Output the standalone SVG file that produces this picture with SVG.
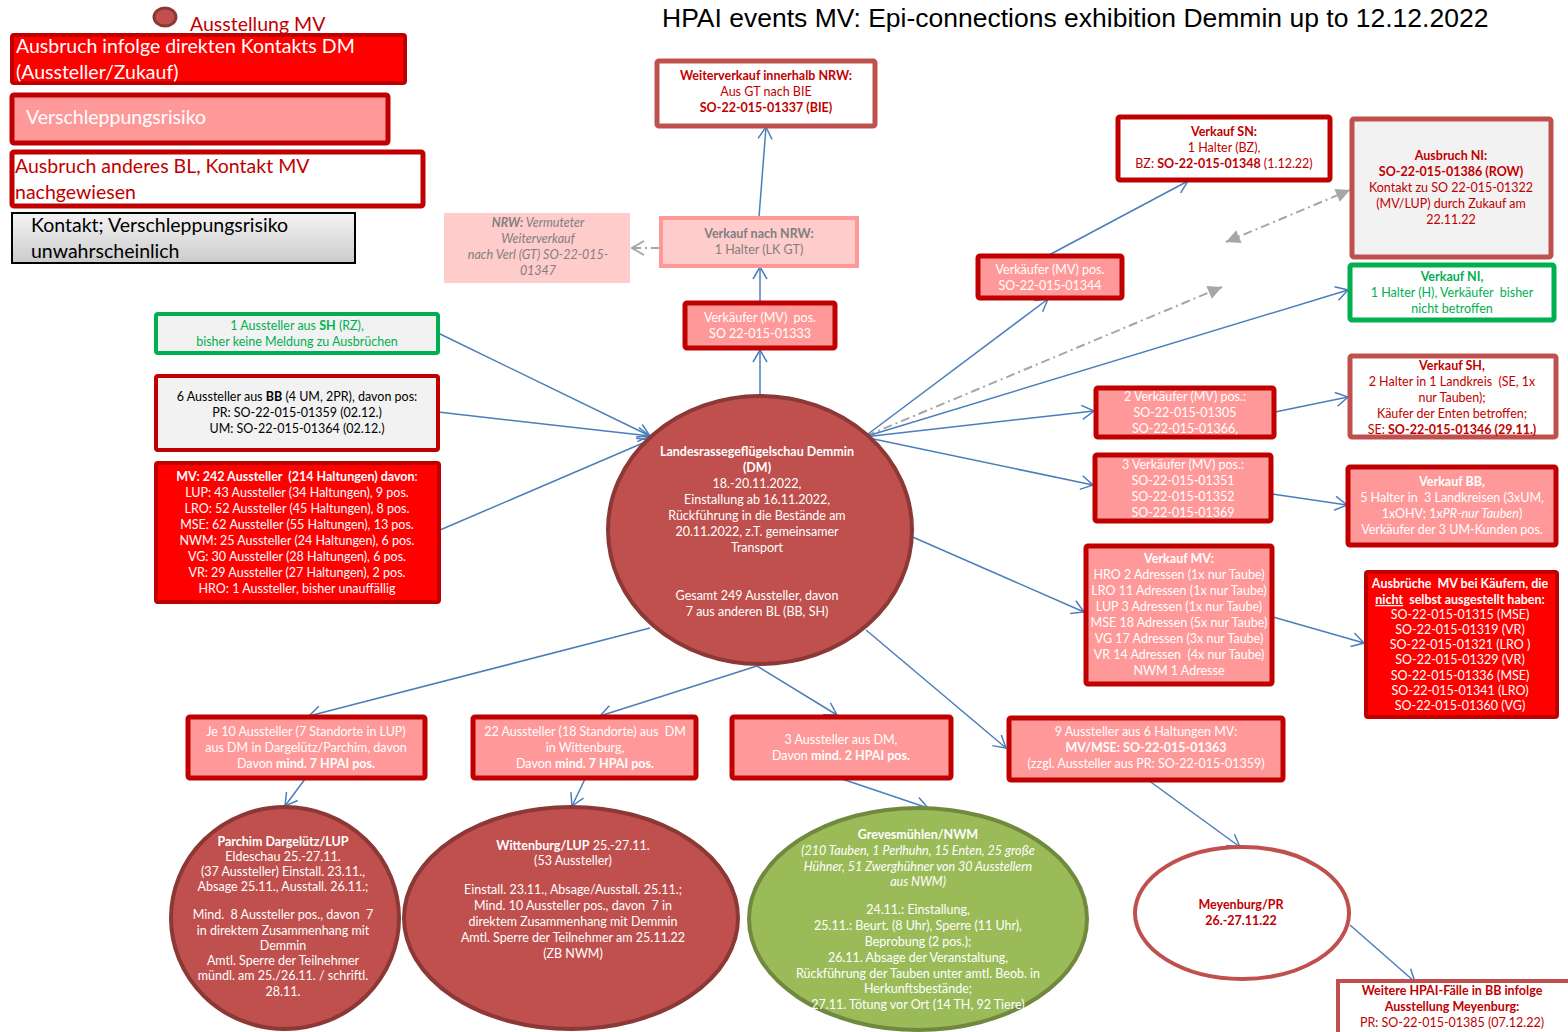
<svg xmlns="http://www.w3.org/2000/svg" width="1568" height="1032" viewBox="0 0 1568 1032">
<style>
text{font-family:Lato,"Open Sans","Liberation Sans",sans-serif;font-size:12.5px;text-anchor:middle}
.lg{font-size:19.5px;text-anchor:start}
.w{fill:#fff}.r{fill:#c00000}.g{fill:#00b050}.k{fill:#000}.gr{fill:#7f7f7f}
.b{font-weight:bold}.i{font-style:italic}
.bred{fill:#ff0000;stroke:#c00000;stroke-width:4}
.bpink{fill:#ff9999;stroke:#c00000;stroke-width:5}
.bwr{fill:#fff;stroke:#c00000;stroke-width:5}
.bwb{fill:#fff;stroke:#c0504d;stroke-width:5}
.bgn{fill:#f2f2f2;stroke:#00b050;stroke-width:4}
.bgn2{fill:#fff;stroke:#00b050;stroke-width:5}
.ered{fill:#c0504d;stroke:#8c3836;stroke-width:4}
.c{fill:none;stroke:#4a7ebb;stroke-width:1.5;marker-end:url(#ar)}
.d{fill:none;stroke:#a6a6a6;stroke-width:2;stroke-dasharray:9 4 2 4}
</style>
<defs>
<marker id="ar" markerUnits="userSpaceOnUse" markerWidth="16" markerHeight="16" refX="13" refY="8" orient="auto" overflow="visible">
<path d="M1,1 L13,8 L1,15" fill="none" stroke="#4a7ebb" stroke-width="1.5"/>
</marker>
<marker id="ag" markerUnits="userSpaceOnUse" markerWidth="16" markerHeight="16" refX="13" refY="8" orient="auto" overflow="visible">
<path d="M1,1 L13,8 L1,15" fill="none" stroke="#a6a6a6" stroke-width="2"/>
</marker>
<marker id="tg" markerUnits="userSpaceOnUse" markerWidth="16" markerHeight="16" refX="14" refY="7" orient="auto-start-reverse" overflow="visible">
<path d="M0,0 L14,7 L0,14 Z" fill="#a6a6a6"/>
</marker>
<linearGradient id="gg" x1="0" y1="0" x2="0" y2="1">
<stop offset="0" stop-color="#f4f4f4"/><stop offset="1" stop-color="#cbcbcb"/>
</linearGradient>
</defs>
<rect width="1568" height="1032" fill="#fff"/>

<g id="legend">
<ellipse cx="165" cy="17" rx="11" ry="9" fill="#c0504d" stroke="#8c3836" stroke-width="3"/>
<text class="lg r" x="190" y="31">Ausstellung MV</text>
<rect class="bred" x="12" y="35" width="393" height="48" rx="2"/>
<text class="lg w" x="16" y="53">Ausbruch infolge direkten Kontakts DM</text>
<text class="lg w" x="16" y="79">(Aussteller/Zukauf)</text>
<rect class="bpink" x="12" y="95" width="376" height="48" rx="2"/>
<text class="lg w" x="26" y="124">Verschleppungsrisiko</text>
<rect class="bwr" x="12" y="152" width="411" height="54" rx="2" stroke-width="4"/>
<text class="lg r" x="15" y="173">Ausbruch anderes BL, Kontakt MV</text>
<text class="lg r" x="15" y="199">nachgewiesen</text>
<rect x="12" y="213" width="343" height="50" fill="url(#gg)" stroke="#000" stroke-width="2"/>
<text class="lg k" x="31" y="232">Kontakt; Verschleppungsrisiko</text>
<text class="lg k" x="31" y="258">unwahrscheinlich</text>
</g>

<text x="662" y="27" style="font-family:'Liberation Sans',Arial,sans-serif;font-size:26.5px;text-anchor:start" fill="#000">HPAI events MV: Epi-connections exhibition Demmin up to 12.12.2022</text>

<g id="connectors">
<path class="c" d="M438,333 L650,436"/>
<path class="c" d="M438,412 L650,436"/>
<path class="c" d="M440,530 L650,440"/>
<path class="c" d="M760,395 L760,350"/>
<path class="c" d="M760,302 L760,267"/>
<path class="c" d="M759,217 L766,127"/>
<path class="d" d="M660,248 L632,248" marker-end="url(#ag)"/>
<path class="c" d="M864,437 L1048,299"/>
<path class="c" d="M1049,255 L1188,181"/>
<path class="d" d="M866,436 L1222,287" marker-end="url(#tg)"/>
<path class="d" d="M1226,242 L1350,190" marker-start="url(#tg)" marker-end="url(#tg)"/>
<path class="c" d="M864,437 L1348,290"/>
<path class="c" d="M864,437 L1094,411"/>
<path class="c" d="M864,437 L1093,485"/>
<path class="c" d="M908,535 L1084,612"/>
<path class="c" d="M1275,412 L1348,397"/>
<path class="c" d="M1272,494 L1347,505"/>
<path class="c" d="M1273,617 L1364,643"/>
<path class="c" d="M650,628 L309,716"/>
<path class="c" d="M757,666 L600,716"/>
<path class="c" d="M757,666 L837,715"/>
<path class="c" d="M866,630 L1006,748"/>
<path class="c" d="M305,779 L285,806"/>
<path class="c" d="M585,779 L572,806"/>
<path class="c" d="M842,779 L928,808"/>
<path class="c" d="M1148,780 L1240,847"/>
<path class="c" d="M1350,925 L1415,982"/>
</g>

<g id="weiterverkauf-nrw">
<rect class="bwb" x="657" y="61" width="218" height="65" rx="2"/>
<text class="r b" x="766" y="80">Weiterverkauf innerhalb NRW:</text>
<text class="r" x="766" y="96">Aus GT nach BIE</text>
<text class="r b" x="766" y="112">SO-22-015-01337 (BIE)</text>
</g>
<g id="nrw-vermutet">
<rect x="444" y="213" width="186" height="70" fill="#ffcccc"/>
<text class="gr i" x="538" y="227"><tspan class="b">NRW:</tspan> Vermuteter</text>
<text class="gr i" x="538" y="243">Weiterverkauf</text>
<text class="gr i" x="538" y="259">nach Verl (GT) SO-22-015-</text>
<text class="gr i" x="538" y="275">01347</text>
</g>
<g id="verkauf-nrw">
<rect x="661" y="218" width="196" height="48" fill="#ffcccc" stroke="#ff9999" stroke-width="4"/>
<text class="gr b" x="759" y="238">Verkauf nach NRW:</text>
<text class="gr" x="759" y="254">1 Halter (LK GT)</text>
</g>
<g id="verkaeufer-01333">
<rect class="bpink" x="685" y="303" width="150" height="45" rx="2"/>
<text class="w" x="760" y="322" xml:space="preserve">Verkäufer (MV)  pos.</text>
<text class="w" x="760" y="338">SO 22-015-01333</text>
</g>

<g id="verkauf-sn">
<rect class="bwr" x="1118" y="117" width="212" height="63" rx="2"/>
<text class="r b" x="1224" y="136">Verkauf SN:</text>
<text class="r" x="1224" y="152">1 Halter (BZ),</text>
<text class="r" x="1224" y="168">BZ: <tspan class="b">SO-22-015-01348</tspan> (1.12.22)</text>
</g>
<g id="ausbruch-ni">
<rect x="1352" y="119" width="199" height="138" rx="2" fill="#f2f2f2" stroke="#c0504d" stroke-width="5"/>
<text class="r b" x="1451" y="160">Ausbruch NI:</text>
<text class="r b" x="1451" y="176">SO-22-015-01386 (ROW)</text>
<text class="r" x="1451" y="192">Kontakt zu SO 22-015-01322</text>
<text class="r" x="1451" y="208">(MV/LUP) durch Zukauf am</text>
<text class="r" x="1451" y="224">22.11.22</text>
</g>
<g id="verkaeufer-01344">
<rect class="bpink" x="978" y="256" width="144" height="42" rx="2"/>
<text class="w" x="1050" y="274">Verkäufer (MV) pos.</text>
<text class="w" x="1050" y="290">SO-22-015-01344</text>
</g>
<g id="verkauf-ni">
<rect class="bgn2" x="1350" y="265" width="204" height="55" rx="2"/>
<text class="g b" x="1452" y="281">Verkauf NI,</text>
<text class="g" x="1452" y="297" xml:space="preserve">1 Halter (H), Verkäufer  bisher</text>
<text class="g" x="1452" y="313">nicht betroffen</text>
</g>

<g id="sh-aussteller">
<rect class="bgn" x="156" y="314" width="282" height="39" rx="2"/>
<text class="g" x="297" y="330">1 Aussteller aus <tspan class="b">SH</tspan> (RZ),</text>
<text class="g" x="297" y="346">bisher keine Meldung zu Ausbrüchen</text>
</g>
<g id="bb-aussteller">
<rect x="156" y="376" width="282" height="74" rx="2" fill="#f2f2f2" stroke="#c00000" stroke-width="4"/>
<text class="k" x="297" y="401">6 Aussteller aus <tspan class="b">BB</tspan> (4 UM, 2PR), davon pos:</text>
<text class="k" x="297" y="417">PR: SO-22-015-01359 (02.12.)</text>
<text class="k" x="297" y="433">UM: SO-22-015-01364 (02.12.)</text>
</g>
<g id="mv-aussteller">
<rect class="bred" x="156" y="463" width="283" height="139" rx="2"/>
<text class="w" x="297" y="481" xml:space="preserve"><tspan class="b">MV: 242 Aussteller  (214 Haltungen) davon</tspan>:</text>
<text class="w" x="297" y="497">LUP: 43 Aussteller (34 Haltungen), 9 pos.</text>
<text class="w" x="297" y="513">LRO: 52 Aussteller (45 Haltungen), 8 pos.</text>
<text class="w" x="297" y="529">MSE: 62 Aussteller (55 Haltungen), 13 pos.</text>
<text class="w" x="297" y="545">NWM: 25 Aussteller (24 Haltungen), 6 pos.</text>
<text class="w" x="297" y="561">VG: 30 Aussteller (28 Haltungen), 6 pos.</text>
<text class="w" x="297" y="577">VR: 29 Aussteller (27 Haltungen), 2 pos.</text>
<text class="w" x="297" y="593">HRO: 1 Aussteller, bisher unauffällig</text>
</g>

<g id="demmin">
<ellipse class="ered" cx="760" cy="530" rx="152" ry="134"/>
<text class="w b" x="757" y="456">Landesrassegeflügelschau Demmin</text>
<text class="w b" x="757" y="472">(DM)</text>
<text class="w" x="757" y="488">18.-20.11.2022,</text>
<text class="w" x="757" y="504">Einstallung ab 16.11.2022,</text>
<text class="w" x="757" y="520">Rückführung in die Bestände am</text>
<text class="w" x="757" y="536">20.11.2022, z.T. gemeinsamer</text>
<text class="w" x="757" y="552">Transport</text>
<text class="w" x="757" y="600">Gesamt 249 Aussteller, davon</text>
<text class="w" x="757" y="616">7 aus anderen BL (BB, SH)</text>
</g>

<g id="verkaeufer-2">
<rect class="bpink" x="1096" y="388" width="178" height="49" rx="2"/>
<text class="w" x="1185" y="401">2 Verkäufer (MV) pos.:</text>
<text class="w" x="1185" y="417">SO-22-015-01305</text>
<text class="w" x="1185" y="433">SO-22-015-01366,</text>
</g>
<g id="verkaeufer-3">
<rect class="bpink" x="1095" y="455" width="176" height="66" rx="2"/>
<text class="w" x="1183" y="469">3 Verkäufer (MV) pos.:</text>
<text class="w" x="1183" y="485">SO-22-015-01351</text>
<text class="w" x="1183" y="501">SO-22-015-01352</text>
<text class="w" x="1183" y="517">SO-22-015-01369</text>
</g>
<g id="verkauf-mv">
<rect class="bpink" x="1086" y="546" width="186" height="138" rx="2"/>
<text class="w b" x="1179" y="563">Verkauf MV:</text>
<text class="w" x="1179" y="579">HRO 2 Adressen (1x nur Taube)</text>
<text class="w" x="1179" y="595">LRO 11 Adressen (1x nur Taube)</text>
<text class="w" x="1179" y="611">LUP 3 Adressen (1x nur Taube)</text>
<text class="w" x="1179" y="627">MSE 18 Adressen (5x nur Taube)</text>
<text class="w" x="1179" y="643">VG 17 Adressen (3x nur Taube)</text>
<text class="w" x="1179" y="659" xml:space="preserve">VR 14 Adressen  (4x nur Taube)</text>
<text class="w" x="1179" y="675">NWM 1 Adresse</text>
</g>

<g id="verkauf-sh">
<rect class="bwb" x="1350" y="356" width="206" height="81" rx="2"/>
<text class="r b" x="1452" y="370">Verkauf SH,</text>
<text class="r" x="1452" y="386" xml:space="preserve">2 Halter in 1 Landkreis  (SE, 1x</text>
<text class="r" x="1452" y="402">nur Tauben);</text>
<text class="r" x="1452" y="418">Käufer der Enten betroffen;</text>
<text class="r" x="1452" y="434">SE: <tspan class="b">SO-22-015-01346 (29.11.)</tspan></text>
</g>
<g id="verkauf-bb">
<rect class="bpink" x="1348" y="467" width="208" height="78" rx="2"/>
<text class="w b" x="1452" y="486">Verkauf BB,</text>
<text class="w" x="1452" y="502" xml:space="preserve">5 Halter in  3 Landkreisen (3xUM,</text>
<text class="w" x="1452" y="518">1xOHV; 1x<tspan class="i">PR-nur Tauben</tspan>)</text>
<text class="w" x="1452" y="534">Verkäufer der 3 UM-Kunden pos.</text>
</g>
<g id="ausbrueche-mv">
<rect class="bred" x="1366" y="572" width="191" height="145" rx="2"/>
<text class="w b" x="1460" y="588" xml:space="preserve">Ausbrüche  MV bei Käufern, die</text>
<text class="w b" x="1460" y="604" xml:space="preserve"><tspan text-decoration="underline">nicht</tspan>  selbst ausgestellt haben:</text>
<text class="w" x="1460" y="619">SO-22-015-01315 (MSE)</text>
<text class="w" x="1460" y="634">SO-22-015-01319 (VR)</text>
<text class="w" x="1460" y="649">SO-22-015-01321 (LRO )</text>
<text class="w" x="1460" y="664">SO-22-015-01329 (VR)</text>
<text class="w" x="1460" y="680">SO-22-015-01336 (MSE)</text>
<text class="w" x="1460" y="695">SO-22-015-01341 (LRO)</text>
<text class="w" x="1460" y="710">SO-22-015-01360 (VG)</text>
</g>

<g id="box-dargeluetz">
<rect class="bpink" x="188" y="717" width="237" height="61" rx="2"/>
<text class="w" x="306" y="736">Je 10 Aussteller (7 Standorte in LUP)</text>
<text class="w" x="306" y="752">aus DM in Dargelütz/Parchim, davon</text>
<text class="w" x="306" y="768">Davon <tspan class="b">mind. 7 HPAI pos.</tspan></text>
</g>
<g id="box-wittenburg">
<rect class="bpink" x="473" y="717" width="223" height="61" rx="2"/>
<text class="w" x="585" y="736" xml:space="preserve">22 Aussteller (18 Standorte) aus  DM</text>
<text class="w" x="585" y="752">in Wittenburg,</text>
<text class="w" x="585" y="768">Davon <tspan class="b">mind. 7 HPAI pos.</tspan></text>
</g>
<g id="box-grevesmuehlen">
<rect class="bpink" x="732" y="717" width="219" height="61" rx="2"/>
<text class="w" x="841" y="744">3 Aussteller aus DM,</text>
<text class="w" x="841" y="760">Davon <tspan class="b">mind. 2 HPAI pos.</tspan></text>
</g>
<g id="box-meyenburg">
<rect class="bpink" x="1009" y="718" width="274" height="62" rx="2"/>
<text class="w" x="1146" y="736">9 Aussteller aus 6 Haltungen MV:</text>
<text class="w b" x="1146" y="752">MV/MSE: SO-22-015-01363</text>
<text class="w" x="1146" y="768">(zzgl. Aussteller aus PR: SO-22-015-01359)</text>
</g>

<g id="parchim">
<ellipse class="ered" cx="285" cy="918" rx="114" ry="111"/>
<text class="w b" x="283" y="846">Parchim Dargelütz/LUP</text>
<text class="w" x="283" y="861">Eldeschau 25.-27.11.</text>
<text class="w" x="283" y="876">(37 Aussteller) Einstall. 23.11.,</text>
<text class="w" x="283" y="891">Absage 25.11., Ausstall. 26.11.;</text>
<text class="w" x="283" y="919" xml:space="preserve">Mind.  8 Aussteller pos., davon  7</text>
<text class="w" x="283" y="935">in direktem Zusammenhang mit</text>
<text class="w" x="283" y="950">Demmin</text>
<text class="w" x="283" y="965">Amtl. Sperre der Teilnehmer</text>
<text class="w" x="283" y="980">mündl. am 25./26.11. / schriftl.</text>
<text class="w" x="283" y="996">28.11.</text>
</g>
<g id="wittenburg">
<ellipse class="ered" cx="571" cy="918" rx="167" ry="111"/>
<text class="w" x="573" y="850"><tspan class="b">Wittenburg/LUP</tspan> 25.-27.11.</text>
<text class="w" x="573" y="865">(53 Aussteller)</text>
<text class="w" x="573" y="894">Einstall. 23.11., Absage/Ausstall. 25.11.;</text>
<text class="w" x="573" y="910" xml:space="preserve">Mind. 10 Aussteller pos., davon  7 in</text>
<text class="w" x="573" y="926">direktem Zusammenhang mit Demmin</text>
<text class="w" x="573" y="942">Amtl. Sperre der Teilnehmer am 25.11.22</text>
<text class="w" x="573" y="958">(ZB NWM)</text>
</g>
<g id="grevesmuehlen">
<ellipse cx="918" cy="919" rx="169" ry="111" fill="#9bbb59" stroke="#71893f" stroke-width="4"/>
<text class="w b" x="918" y="839">Grevesmühlen/NWM</text>
<text class="w i" x="918" y="855">(210 Tauben, 1 Perlhuhn, 15 Enten, 25 große</text>
<text class="w i" x="918" y="871">Hühner, 51 Zwerghühner von 30 Ausstellern</text>
<text class="w i" x="918" y="886">aus NWM)</text>
<text class="w" x="918" y="914">24.11.: Einstallung,</text>
<text class="w" x="918" y="930">25.11.: Beurt. (8 Uhr), Sperre (11 Uhr),</text>
<text class="w" x="918" y="946">Beprobung (2 pos.);</text>
<text class="w" x="918" y="962">26.11. Absage der Veranstaltung,</text>
<text class="w" x="918" y="978">Rückführung der Tauben unter amtl. Beob. in</text>
<text class="w" x="918" y="993">Herkunftsbestände;</text>
<text class="w" x="918" y="1009">27.11. Tötung vor Ort (14 TH, 92 Tiere)</text>
</g>
<g id="meyenburg">
<ellipse cx="1242" cy="913" rx="107" ry="66" fill="#fff" stroke="#c0504d" stroke-width="4"/>
<text class="r b" x="1241" y="909">Meyenburg/PR</text>
<text class="r b" x="1241" y="925">26.-27.11.22</text>
</g>
<g id="weitere-bb">
<rect x="1338" y="981" width="240" height="60" fill="#fff" stroke="#c0504d" stroke-width="4"/>
<text class="r b" x="1452" y="995">Weitere HPAI-Fälle in BB infolge</text>
<text class="r b" x="1452" y="1011">Ausstellung Meyenburg:</text>
<text class="r" x="1452" y="1027">PR: SO-22-015-01385 (07.12.22)</text>
</g>
</svg>
